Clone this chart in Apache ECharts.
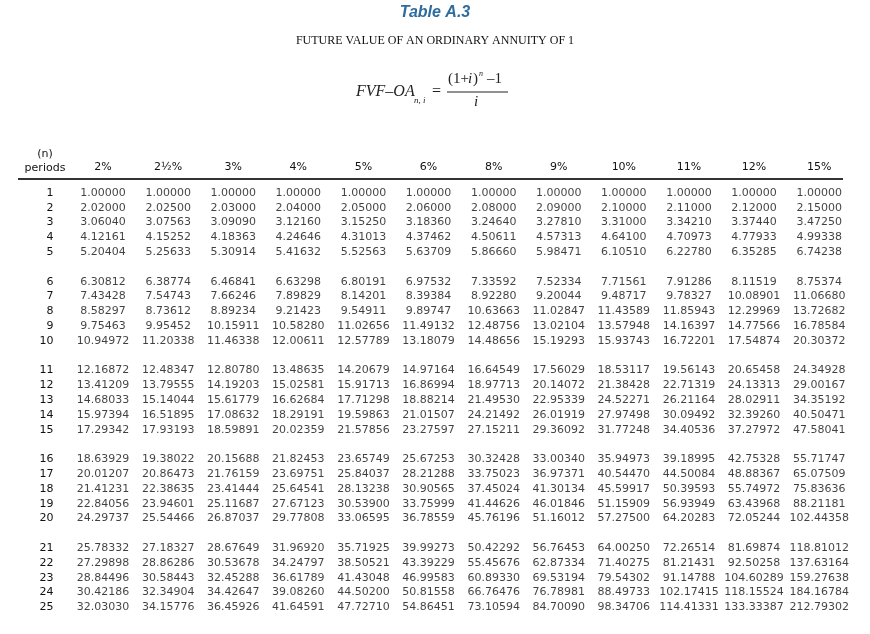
<!DOCTYPE html>
<html><head><meta charset="utf-8">
<script src="https://cdn.jsdelivr.net/npm/echarts@6/dist/echarts.min.js"></script>
<style>html,body{margin:0;padding:0;background:#fff}#c{width:870px;height:634px}</style>
</head><body><div id="c"></div>
<script>
const rates = ['2%','2\u00BD%','3%','4%','5%','6%','8%','9%','10%','11%','12%','15%'];
const periods = [1,2,3,4,5,6,7,8,9,10,11,12,13,14,15,16,17,18,19,20,21,22,23,24,25];
const r1 = [1.00000,1.00000,1.00000,1.00000,1.00000,1.00000,1.00000,1.00000,1.00000,1.00000,1.00000,1.00000];
const r2 = [2.02000,2.02500,2.03000,2.04000,2.05000,2.06000,2.08000,2.09000,2.10000,2.11000,2.12000,2.15000];
const r3 = [3.06040,3.07563,3.09090,3.12160,3.15250,3.18360,3.24640,3.27810,3.31000,3.34210,3.37440,3.47250];
const r4 = [4.12161,4.15252,4.18363,4.24646,4.31013,4.37462,4.50611,4.57313,4.64100,4.70973,4.77933,4.99338];
const r5 = [5.20404,5.25633,5.30914,5.41632,5.52563,5.63709,5.86660,5.98471,6.10510,6.22780,6.35285,6.74238];
const r6 = [6.30812,6.38774,6.46841,6.63298,6.80191,6.97532,7.33592,7.52334,7.71561,7.91286,8.11519,8.75374];
const r7 = [7.43428,7.54743,7.66246,7.89829,8.14201,8.39384,8.92280,9.20044,9.48717,9.78327,10.08901,11.06680];
const r8 = [8.58297,8.73612,8.89234,9.21423,9.54911,9.89747,10.63663,11.02847,11.43589,11.85943,12.29969,13.72682];
const r9 = [9.75463,9.95452,10.15911,10.58280,11.02656,11.49132,12.48756,13.02104,13.57948,14.16397,14.77566,16.78584];
const r10 = [10.94972,11.20338,11.46338,12.00611,12.57789,13.18079,14.48656,15.19293,15.93743,16.72201,17.54874,20.30372];
const r11 = [12.16872,12.48347,12.80780,13.48635,14.20679,14.97164,16.64549,17.56029,18.53117,19.56143,20.65458,24.34928];
const r12 = [13.41209,13.79555,14.19203,15.02581,15.91713,16.86994,18.97713,20.14072,21.38428,22.71319,24.13313,29.00167];
const r13 = [14.68033,15.14044,15.61779,16.62684,17.71298,18.88214,21.49530,22.95339,24.52271,26.21164,28.02911,34.35192];
const r14 = [15.97394,16.51895,17.08632,18.29191,19.59863,21.01507,24.21492,26.01919,27.97498,30.09492,32.39260,40.50471];
const r15 = [17.29342,17.93193,18.59891,20.02359,21.57856,23.27597,27.15211,29.36092,31.77248,34.40536,37.27972,47.58041];
const r16 = [18.63929,19.38022,20.15688,21.82453,23.65749,25.67253,30.32428,33.00340,35.94973,39.18995,42.75328,55.71747];
const r17 = [20.01207,20.86473,21.76159,23.69751,25.84037,28.21288,33.75023,36.97371,40.54470,44.50084,48.88367,65.07509];
const r18 = [21.41231,22.38635,23.41444,25.64541,28.13238,30.90565,37.45024,41.30134,45.59917,50.39593,55.74972,75.83636];
const r19 = [22.84056,23.94601,25.11687,27.67123,30.53900,33.75999,41.44626,46.01846,51.15909,56.93949,63.43968,88.21181];
const r20 = [24.29737,25.54466,26.87037,29.77808,33.06595,36.78559,45.76196,51.16012,57.27500,64.20283,72.05244,102.44358];
const r21 = [25.78332,27.18327,28.67649,31.96920,35.71925,39.99273,50.42292,56.76453,64.00250,72.26514,81.69874,118.81012];
const r22 = [27.29898,28.86286,30.53678,34.24797,38.50521,43.39229,55.45676,62.87334,71.40275,81.21431,92.50258,137.63164];
const r23 = [28.84496,30.58443,32.45288,36.61789,41.43048,46.99583,60.89330,69.53194,79.54302,91.14788,104.60289,159.27638];
const r24 = [30.42186,32.34904,34.42647,39.08260,44.50200,50.81558,66.76476,76.78981,88.49733,102.17415,118.15524,184.16784];
const r25 = [32.03030,34.15776,36.45926,41.64591,47.72710,54.86451,73.10594,84.70090,98.34706,114.41331,133.33387,212.79302];
const rows = [r1,r2,r3,r4,r5,r6,r7,r8,r9,r10,r11,r12,r13,r14,r15,r16,r17,r18,r19,r20,r21,r22,r23,r24,r25];

// row slots: a blank slot after every 5 periods
const yCats = [];
const slotOf = {};
periods.forEach((p, i) => {
  if (i > 0 && i % 5 === 0) yCats.push('gap' + i);
  slotOf[p] = yCats.length;
  yCats.push(String(p));
});
const data = [];
rows.forEach((row, i) => row.forEach((v, j) => data.push([j, slotOf[periods[i]], v])));

const FONT = 'DejaVu Sans';
const INK = '#111';
const chart = echarts.init(document.getElementById('c'));
chart.setOption({
  animation: false,
  backgroundColor: '#fff',
  grid: { left: 70.5, right: 18.3, top: 193, bottom: 26.6 },
  xAxis: {
    type: 'category', data: rates, position: 'top', offset: 14,
    axisLine: { show: false }, axisTick: { show: false },
    axisLabel: { color: INK, fontFamily: FONT, fontSize: 11, margin: 6 }
  },
  yAxis: {
    type: 'category', data: yCats, inverse: true, boundaryGap: false,
    axisLine: { show: false }, axisTick: { show: false }, splitLine: { show: false },
    axisLabel: { color: INK, fontFamily: FONT, fontSize: 11, margin: 17, interval: 0,
      formatter: v => v.startsWith('gap') ? '' : v }
  },
  series: [{
    type: 'scatter', data: data, symbolSize: 0, silent: true,
    label: { show: true, position: 'inside', color: INK, fontFamily: FONT, fontSize: 11,
      formatter: p => p.value[2].toFixed(5) }
  }],
  graphic: [
    { type: 'text', left: 'center', top: 5, style: { text: 'Table A.3', fill: '#2d6c9c', font: 'italic bold 16px "Liberation Sans", Arial' } },
    { type: 'text', left: 'center', top: 35, style: { text: 'FUTURE VALUE OF AN ORDINARY ANNUITY OF 1', fill: '#111', font: '12px "Liberation Serif", serif' } },
    { type: 'text', x: 356, y: 84, style: { text: 'FVF\u2013OA', fill: '#222', font: 'italic 16px "Liberation Serif", serif' } },
    { type: 'text', x: 414, y: 96, style: { text: 'n, i', fill: '#222', font: 'italic 9px "Liberation Serif", serif' } },
    { type: 'text', x: 432, y: 84, style: { text: '=', fill: '#222', font: '16px "Liberation Serif", serif' } },
    { type: 'text', x: 448, y: 72, style: { text: '(1+', fill: '#222', font: '15px "Liberation Serif", serif' } },
    { type: 'text', x: 468, y: 72, style: { text: 'i', fill: '#222', font: 'italic 15px "Liberation Serif", serif' } },
    { type: 'text', x: 473, y: 72, style: { text: ')', fill: '#222', font: '15px "Liberation Serif", serif' } },
    { type: 'text', x: 479, y: 70, style: { text: 'n', fill: '#222', font: 'italic 8px "Liberation Serif", serif' } },
    { type: 'text', x: 487, y: 72, style: { text: '\u20131', fill: '#222', font: '15px "Liberation Serif", serif' } },
    { type: 'line', shape: { x1: 447, y1: 92, x2: 508, y2: 92 }, style: { stroke: '#222', lineWidth: 1 } },
    { type: 'text', x: 474, y: 95, style: { text: 'i', fill: '#222', font: 'italic 15px "Liberation Serif", serif' } },
    { type: 'text', x: 45, y: 149, style: { text: '(n)', fill: INK, font: '11px "DejaVu Sans"', align: 'center' } },
    { type: 'text', x: 45, y: 163, style: { text: 'periods', fill: INK, font: '11px "DejaVu Sans"', align: 'center' } },
    { type: 'line', shape: { x1: 18, y1: 179, x2: 843, y2: 179 }, style: { stroke: '#333', lineWidth: 2 } }
  ]
});
</script></body></html>
